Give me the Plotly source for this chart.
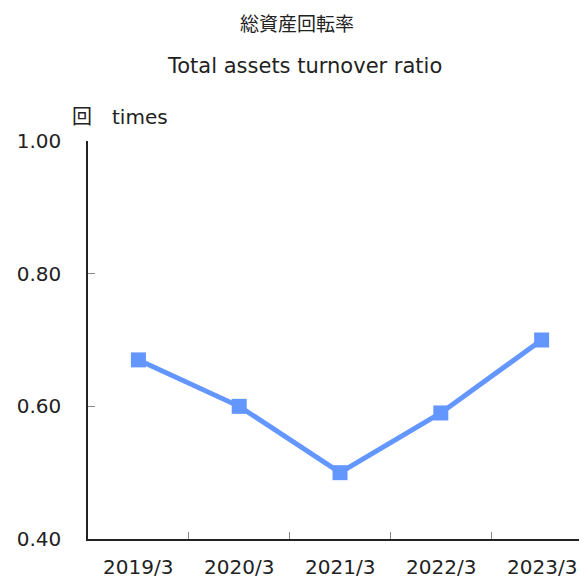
import plotly.graph_objects as go

categories = ["2019/3", "2020/3", "2021/3", "2022/3", "2023/3"]
values = [0.67, 0.60, 0.50, 0.59, 0.70]
y_ticks = [0.40, 0.60, 0.80, 1.00]
y_tick_labels = ["0.40", "0.60", "0.80", "1.00"]
title_jp = "総資産回転率"
title_en = "Total assets turnover ratio"
unit_label = "回　times"

FONT = "DejaVu Sans, Noto Sans CJK JP, sans-serif"
LINE_COLOR = "#6496ff"
OFF = 8  # page body margin

fig = go.Figure()
fig.add_trace(go.Scatter(
    x=list(range(len(categories))), y=values, mode="lines+markers",
    line=dict(color=LINE_COLOR, width=5),
    marker=dict(symbol="square", size=15, color=LINE_COLOR),
    showlegend=False, hoverinfo="skip",
))

L, T, B = 88 - OFF, 141 - OFF, 40
W, H = 587 - OFF, 579 - OFF
PW = W - L

fig.update_layout(
    width=W, height=H,
    margin=dict(l=L, r=0, t=T, b=B, pad=0),
    paper_bgcolor="white", plot_bgcolor="white",
    font=dict(family=FONT, size=20, color="#222222"),
    xaxis=dict(
        range=[-0.5, 4.45], tickmode="array",
        tickvals=[-0.5, 0.5, 1.5, 2.5, 3.5],
        ticktext=["", "", "", "", ""],
        ticks="inside", ticklen=7, tickcolor="#888888", tickwidth=1,
        showline=True, linecolor="#222222", linewidth=1.5,
        showgrid=False, zeroline=False, fixedrange=True,
    ),
    yaxis=dict(
        range=[0.40, 1.00], tickmode="array", tickvals=y_ticks, ticktext=y_tick_labels,
        ticks="inside", ticklen=7, tickcolor="#888888", tickwidth=1,
        showline=True, linecolor="#222222", linewidth=1.5,
        showgrid=False, zeroline=False, ticklabelstandoff=21,
        tickfont=dict(size=20), fixedrange=True,
    ),
)

for i, c in enumerate(categories):
    fig.add_annotation(x=i, y=0, xref="x", yref="paper", text=c, showarrow=False,
                       yshift=-28, font=dict(size=20, family=FONT), yanchor="middle")

fig.add_annotation(x=(297 - 88) / PW, y=1, xref="paper", yref="paper", text=title_jp,
                   showarrow=False, yshift=141 - 22, yanchor="middle",
                   font=dict(size=19, family="Noto Sans CJK JP"))
fig.add_annotation(x=(304 - 88) / PW, y=1, xref="paper", yref="paper", text=title_en,
                   showarrow=False, yshift=141 - 66, yanchor="middle",
                   font=dict(size=21, family=FONT))
fig.add_annotation(x=(70 - 88) / PW, y=1, xref="paper", yref="paper", text=unit_label,
                   showarrow=False, yshift=141 - 117, yanchor="middle", xanchor="left",
                   font=dict(size=20, family=FONT))

fig.write_html("out.html")
